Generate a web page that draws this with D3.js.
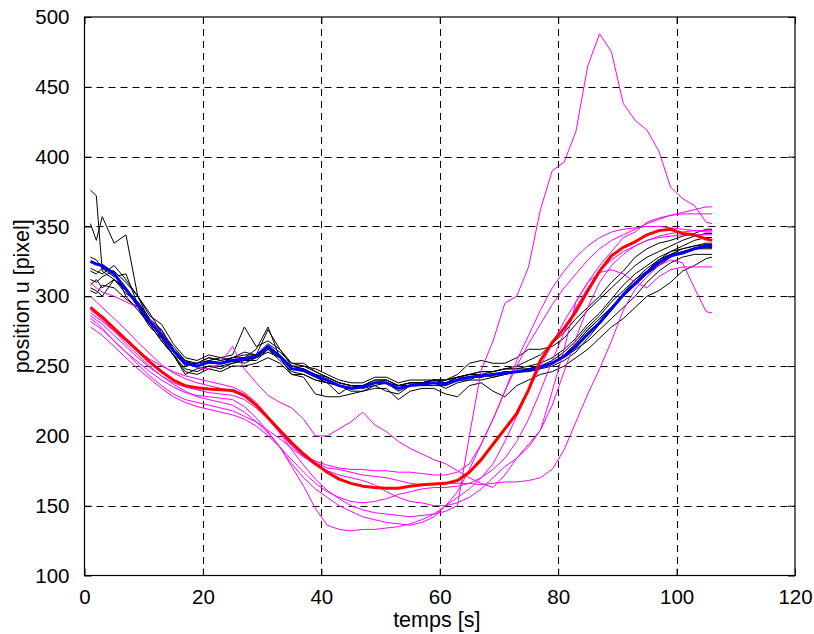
<!DOCTYPE html>
<html>
<head>
<meta charset="utf-8">
<script src="https://cdn.jsdelivr.net/npm/d3@7"></script>
<style>
  body { margin: 0; background: #fff; }
  svg { display: block; }
  text { font-family: "Liberation Sans", Arial, Helvetica, sans-serif; fill: #000; }
</style>
</head>
<body>
<svg id="chart" width="814" height="634"></svg>
<script>
// Sampling instants (s), shared by every trajectory
const temps = [1, 2, 3, 5, 7, 9, 11, 13, 15, 17, 19, 21, 23, 25, 27, 29, 31, 33, 35, 37, 39,
  41, 43, 45, 47, 49, 51, 53, 55, 57, 59, 61, 63, 65, 67, 69, 71, 73, 75, 77, 79,
  81, 83, 85, 87, 89, 91, 93, 95, 97, 99, 101, 103, 105, 106];

const xTicks = [0, 20, 40, 60, 80, 100, 120];
const yTicks = [100, 150, 200, 250, 300, 350, 400, 450, 500];

// Group 1 trials (black)
const essai1 = [376, 372, 318, 312, 302, 296, 284, 276, 262, 250, 252, 256, 254, 256, 260, 258, 276, 262, 250, 250, 246, 242, 238, 236, 236, 240, 240, 236, 238, 238, 240, 238, 242, 244, 246, 246, 248, 250, 254, 258, 266, 274, 284, 292, 300, 310, 318, 328, 334, 338, 340, 343, 345, 348, 348];
const essai2 = [352, 340, 357, 338, 344, 300, 286, 280, 266, 256, 254, 258, 256, 258, 278, 264, 268, 262, 252, 250, 248, 244, 240, 238, 238, 242, 242, 238, 240, 240, 240, 240, 244, 252, 254, 252, 252, 256, 262, 262, 264, 270, 280, 290, 298, 306, 314, 322, 328, 332, 336, 340, 343, 345, 345];
const essai3 = [318, 316, 320, 318, 310, 300, 282, 270, 258, 248, 246, 250, 250, 252, 254, 256, 262, 254, 246, 244, 240, 238, 230, 236, 234, 236, 232, 230, 236, 236, 238, 234, 238, 240, 244, 242, 244, 246, 248, 250, 254, 260, 268, 278, 286, 296, 304, 312, 320, 326, 332, 336, 340, 342, 342];
const essai4 = [312, 310, 314, 318, 300, 290, 280, 268, 258, 252, 252, 254, 252, 256, 256, 262, 278, 256, 244, 244, 240, 238, 236, 232, 232, 236, 238, 236, 236, 238, 240, 240, 242, 242, 242, 244, 246, 246, 248, 250, 252, 258, 266, 276, 284, 292, 302, 312, 318, 326, 330, 334, 336, 337, 337];
const essai5 = [308, 312, 306, 312, 304, 296, 284, 274, 262, 254, 250, 252, 252, 254, 252, 256, 260, 256, 250, 248, 244, 240, 236, 234, 236, 238, 238, 232, 236, 236, 236, 236, 240, 240, 240, 242, 244, 246, 246, 248, 250, 254, 260, 270, 280, 290, 300, 308, 316, 322, 328, 332, 334, 335, 335];
const essai6 = [304, 302, 308, 306, 298, 292, 280, 268, 258, 246, 244, 248, 246, 250, 250, 252, 256, 252, 244, 242, 230, 228, 228, 230, 232, 234, 234, 226, 232, 234, 234, 230, 228, 236, 238, 232, 228, 236, 240, 244, 246, 250, 256, 262, 270, 278, 284, 292, 300, 304, 310, 318, 322, 327, 328];
const essai7 = [320, 318, 316, 322, 312, 300, 288, 274, 264, 254, 250, 254, 256, 254, 256, 258, 266, 260, 252, 252, 246, 242, 238, 236, 236, 238, 240, 236, 238, 238, 240, 238, 242, 244, 246, 246, 248, 248, 250, 252, 256, 262, 270, 280, 288, 298, 308, 316, 322, 328, 332, 334, 336, 338, 338];
const essai8 = [328, 326, 320, 314, 316, 294, 282, 276, 262, 254, 252, 256, 254, 256, 258, 258, 264, 258, 250, 248, 244, 242, 238, 236, 236, 240, 240, 236, 238, 238, 240, 240, 242, 244, 244, 246, 248, 248, 248, 250, 252, 258, 266, 276, 284, 292, 302, 310, 318, 326, 330, 332, 334, 334, 334];
const essai9 = [306, 304, 300, 312, 306, 292, 278, 270, 258, 244, 248, 250, 248, 252, 254, 254, 262, 256, 248, 246, 242, 238, 236, 234, 236, 238, 238, 234, 236, 238, 238, 238, 240, 242, 242, 244, 246, 246, 248, 250, 252, 256, 262, 268, 276, 284, 292, 300, 310, 318, 324, 328, 330, 330, 330];

// Group 1 mean (blue)
const moyenne1 = [325, 323, 322, 316, 305, 294, 282, 272, 261, 252, 250, 253, 252, 254, 255, 257, 264, 257, 248, 247, 243, 240, 236, 234, 235, 238, 238, 234, 236, 237, 238, 237, 240, 242, 243, 244, 245, 246, 247, 249, 252, 257, 264, 273, 281, 291, 301, 309, 317, 324, 329, 331, 334, 336, 336];

// Group 2 trials (magenta)
const essaiA = [310, 306, 303, 300, 296, 292, 284, 274, 262, 252, 249, 248, 252, 264, 248, 238, 229, 224, 220, 212, 200, 200, 205, 210, 217, 208, 203, 196, 191, 187, 183, 180, 175, 170, 166, 163, 172, 184, 194, 204, 232, 262, 296, 310, 317, 319, 316, 310, 306, 314, 319, 321, 321, 321, 321];
const essaiB = [300, 296, 292, 284, 276, 267, 259, 251, 245, 241, 238, 236, 234, 232, 228, 222, 213, 202, 190, 179, 169, 161, 155, 150, 147, 145, 144, 143, 142, 143, 144, 146, 150, 200, 247, 268, 295, 300, 321, 362, 390, 396, 418, 465, 488, 475, 438, 426, 419, 404, 378, 370, 365, 353, 352];
const essaiC = [290, 287, 283, 275, 266, 258, 250, 243, 237, 232, 228, 226, 224, 222, 217, 210, 202, 192, 178, 164, 148, 136, 133, 132, 133, 133, 134, 135, 137, 140, 144, 150, 156, 162, 170, 180, 196, 214, 232, 250, 266, 282, 296, 310, 322, 332, 342, 346, 353, 356, 358, 359, 359, 359, 359];
const essaiD = [286, 283, 280, 272, 264, 256, 249, 243, 238, 235, 233, 231, 230, 229, 226, 220, 212, 202, 193, 186, 182, 179, 177, 176, 176, 175, 175, 174, 174, 173, 172, 172, 174, 180, 194, 212, 232, 250, 266, 280, 294, 306, 316, 326, 334, 340, 344, 348, 352, 355, 358, 360, 362, 364, 364];
const essaiE = [284, 281, 277, 268, 260, 251, 243, 236, 230, 226, 224, 222, 220, 218, 214, 210, 204, 198, 191, 185, 181, 177, 176, 174, 172, 171, 170, 168, 166, 165, 165, 166, 166, 166, 165, 166, 167, 167, 168, 170, 176, 190, 210, 230, 248, 268, 290, 305, 314, 322, 326, 324, 306, 289, 288];
const essaiF = [282, 279, 276, 268, 260, 253, 246, 240, 235, 231, 229, 228, 227, 226, 221, 213, 203, 192, 180, 170, 162, 156, 150, 146, 142, 140, 138, 137, 136, 138, 142, 150, 160, 176, 194, 212, 232, 254, 272, 290, 306, 318, 328, 336, 342, 346, 348, 349, 350, 350, 349, 348, 347, 346, 346];
const essaiG = [278, 275, 272, 264, 256, 248, 241, 234, 228, 224, 221, 219, 217, 215, 212, 207, 200, 192, 183, 174, 166, 160, 156, 153, 152, 153, 155, 158, 160, 162, 163, 163, 164, 166, 170, 176, 184, 196, 212, 232, 254, 274, 292, 306, 318, 326, 332, 336, 340, 342, 343, 344, 344, 344, 344];
const essaiH = [288, 285, 282, 275, 268, 261, 255, 250, 246, 243, 241, 239, 237, 235, 231, 224, 214, 203, 193, 185, 179, 175, 172, 170, 168, 165, 160, 156, 153, 152, 150, 150, 152, 156, 162, 170, 178, 184, 192, 204, 222, 246, 270, 292, 310, 322, 330, 336, 340, 343, 345, 346, 347, 347, 347];

// Group 2 mean (red)
const moyenne2 = [292, 288.5, 285, 277, 269, 261, 253, 246, 240, 236, 234.5, 233.5, 233, 232.5, 229, 222, 213, 204, 195, 187, 180, 174, 169, 166, 164, 163, 162.5, 162.5, 164, 165, 165.5, 166, 168, 174, 183, 194, 205, 216, 233, 254, 267, 277, 289, 304, 318, 329, 335, 339, 344, 347, 348, 345, 344, 341, 340];

const groupe1 = [essai1, essai2, essai3, essai4, essai5, essai6, essai7, essai8, essai9];
const groupe2 = [essaiA, essaiB, essaiC, essaiD, essaiE, essaiF, essaiG, essaiH];

const svg = d3.select("#chart");
const plot = { left: 84.5, right: 795, top: 17, bottom: 575.5 };

const x = d3.scaleLinear().domain([0, 120]).range([plot.left, plot.right]);
const y = d3.scaleLinear().domain([100, 500]).range([plot.bottom, plot.top]);

// Dashed grid
const grid = svg.append("g").attr("stroke", "#000").attr("stroke-width", 1)
  .attr("stroke-dasharray", "7,5").attr("fill", "none");
xTicks.slice(1, -1).forEach(t => {
  grid.append("line").attr("x1", Math.round(x(t)) + 0.5).attr("x2", Math.round(x(t)) + 0.5)
    .attr("y1", plot.top).attr("y2", plot.bottom);
});
yTicks.slice(1, -1).forEach(v => {
  grid.append("line").attr("y1", Math.round(y(v)) + 0.5).attr("y2", Math.round(y(v)) + 0.5)
    .attr("x1", plot.left).attr("x2", plot.right);
});

const ligne = d3.line().x((d, i) => x(temps[i])).y(d => y(d));

const traces = svg.append("g").attr("fill", "none").attr("stroke-linejoin", "round");
groupe1.forEach(s => traces.append("path").attr("d", ligne(s)).attr("stroke", "#000").attr("stroke-width", 1));
groupe2.forEach(s => traces.append("path").attr("d", ligne(s)).attr("stroke", "#ff00ff").attr("stroke-width", 1));
traces.append("path").attr("d", ligne(moyenne1)).attr("stroke", "#0000ff").attr("stroke-width", 3);
traces.append("path").attr("d", ligne(moyenne2)).attr("stroke", "#ff0000").attr("stroke-width", 3);

// Axes with inward ticks on all four sides
const tickLen = 7;
svg.append("g").attr("transform", `translate(0,${plot.bottom})`)
  .call(d3.axisBottom(x).tickValues(xTicks).tickSize(-tickLen).tickPadding(tickLen + 7).tickFormat(d3.format("d")))
  .call(g => g.select(".domain").remove());
svg.append("g").attr("transform", `translate(0,${plot.top})`)
  .call(d3.axisTop(x).tickValues(xTicks).tickSize(-tickLen).tickFormat(""))
  .call(g => g.select(".domain").remove());
svg.append("g").attr("transform", `translate(${plot.left},0)`)
  .call(d3.axisLeft(y).tickValues(yTicks).tickSize(-tickLen).tickPadding(tickLen + 8).tickFormat(d3.format("d")))
  .call(g => g.select(".domain").remove());
svg.append("g").attr("transform", `translate(${plot.right},0)`)
  .call(d3.axisRight(y).tickValues(yTicks).tickSize(-tickLen).tickFormat(""))
  .call(g => g.select(".domain").remove());

svg.selectAll(".tick line").attr("stroke", "#000");
svg.selectAll(".tick text").attr("font-size", 20.5).attr("font-family", "Liberation Sans, Arial, sans-serif");

svg.append("rect").attr("x", plot.left).attr("y", plot.top)
  .attr("width", plot.right - plot.left).attr("height", plot.bottom - plot.top)
  .attr("fill", "none").attr("stroke", "#000").attr("stroke-width", 1.2);

svg.append("text").attr("x", (plot.left + plot.right) / 2 - 3).attr("y", 627)
  .attr("text-anchor", "middle").attr("font-size", 21.5).text("temps [s]");
svg.append("text").attr("transform", `translate(29,${(plot.top + plot.bottom) / 2}) rotate(-90)`)
  .attr("text-anchor", "middle").attr("font-size", 21.5).text("position u [pixel]");
</script>
</body>
</html>
